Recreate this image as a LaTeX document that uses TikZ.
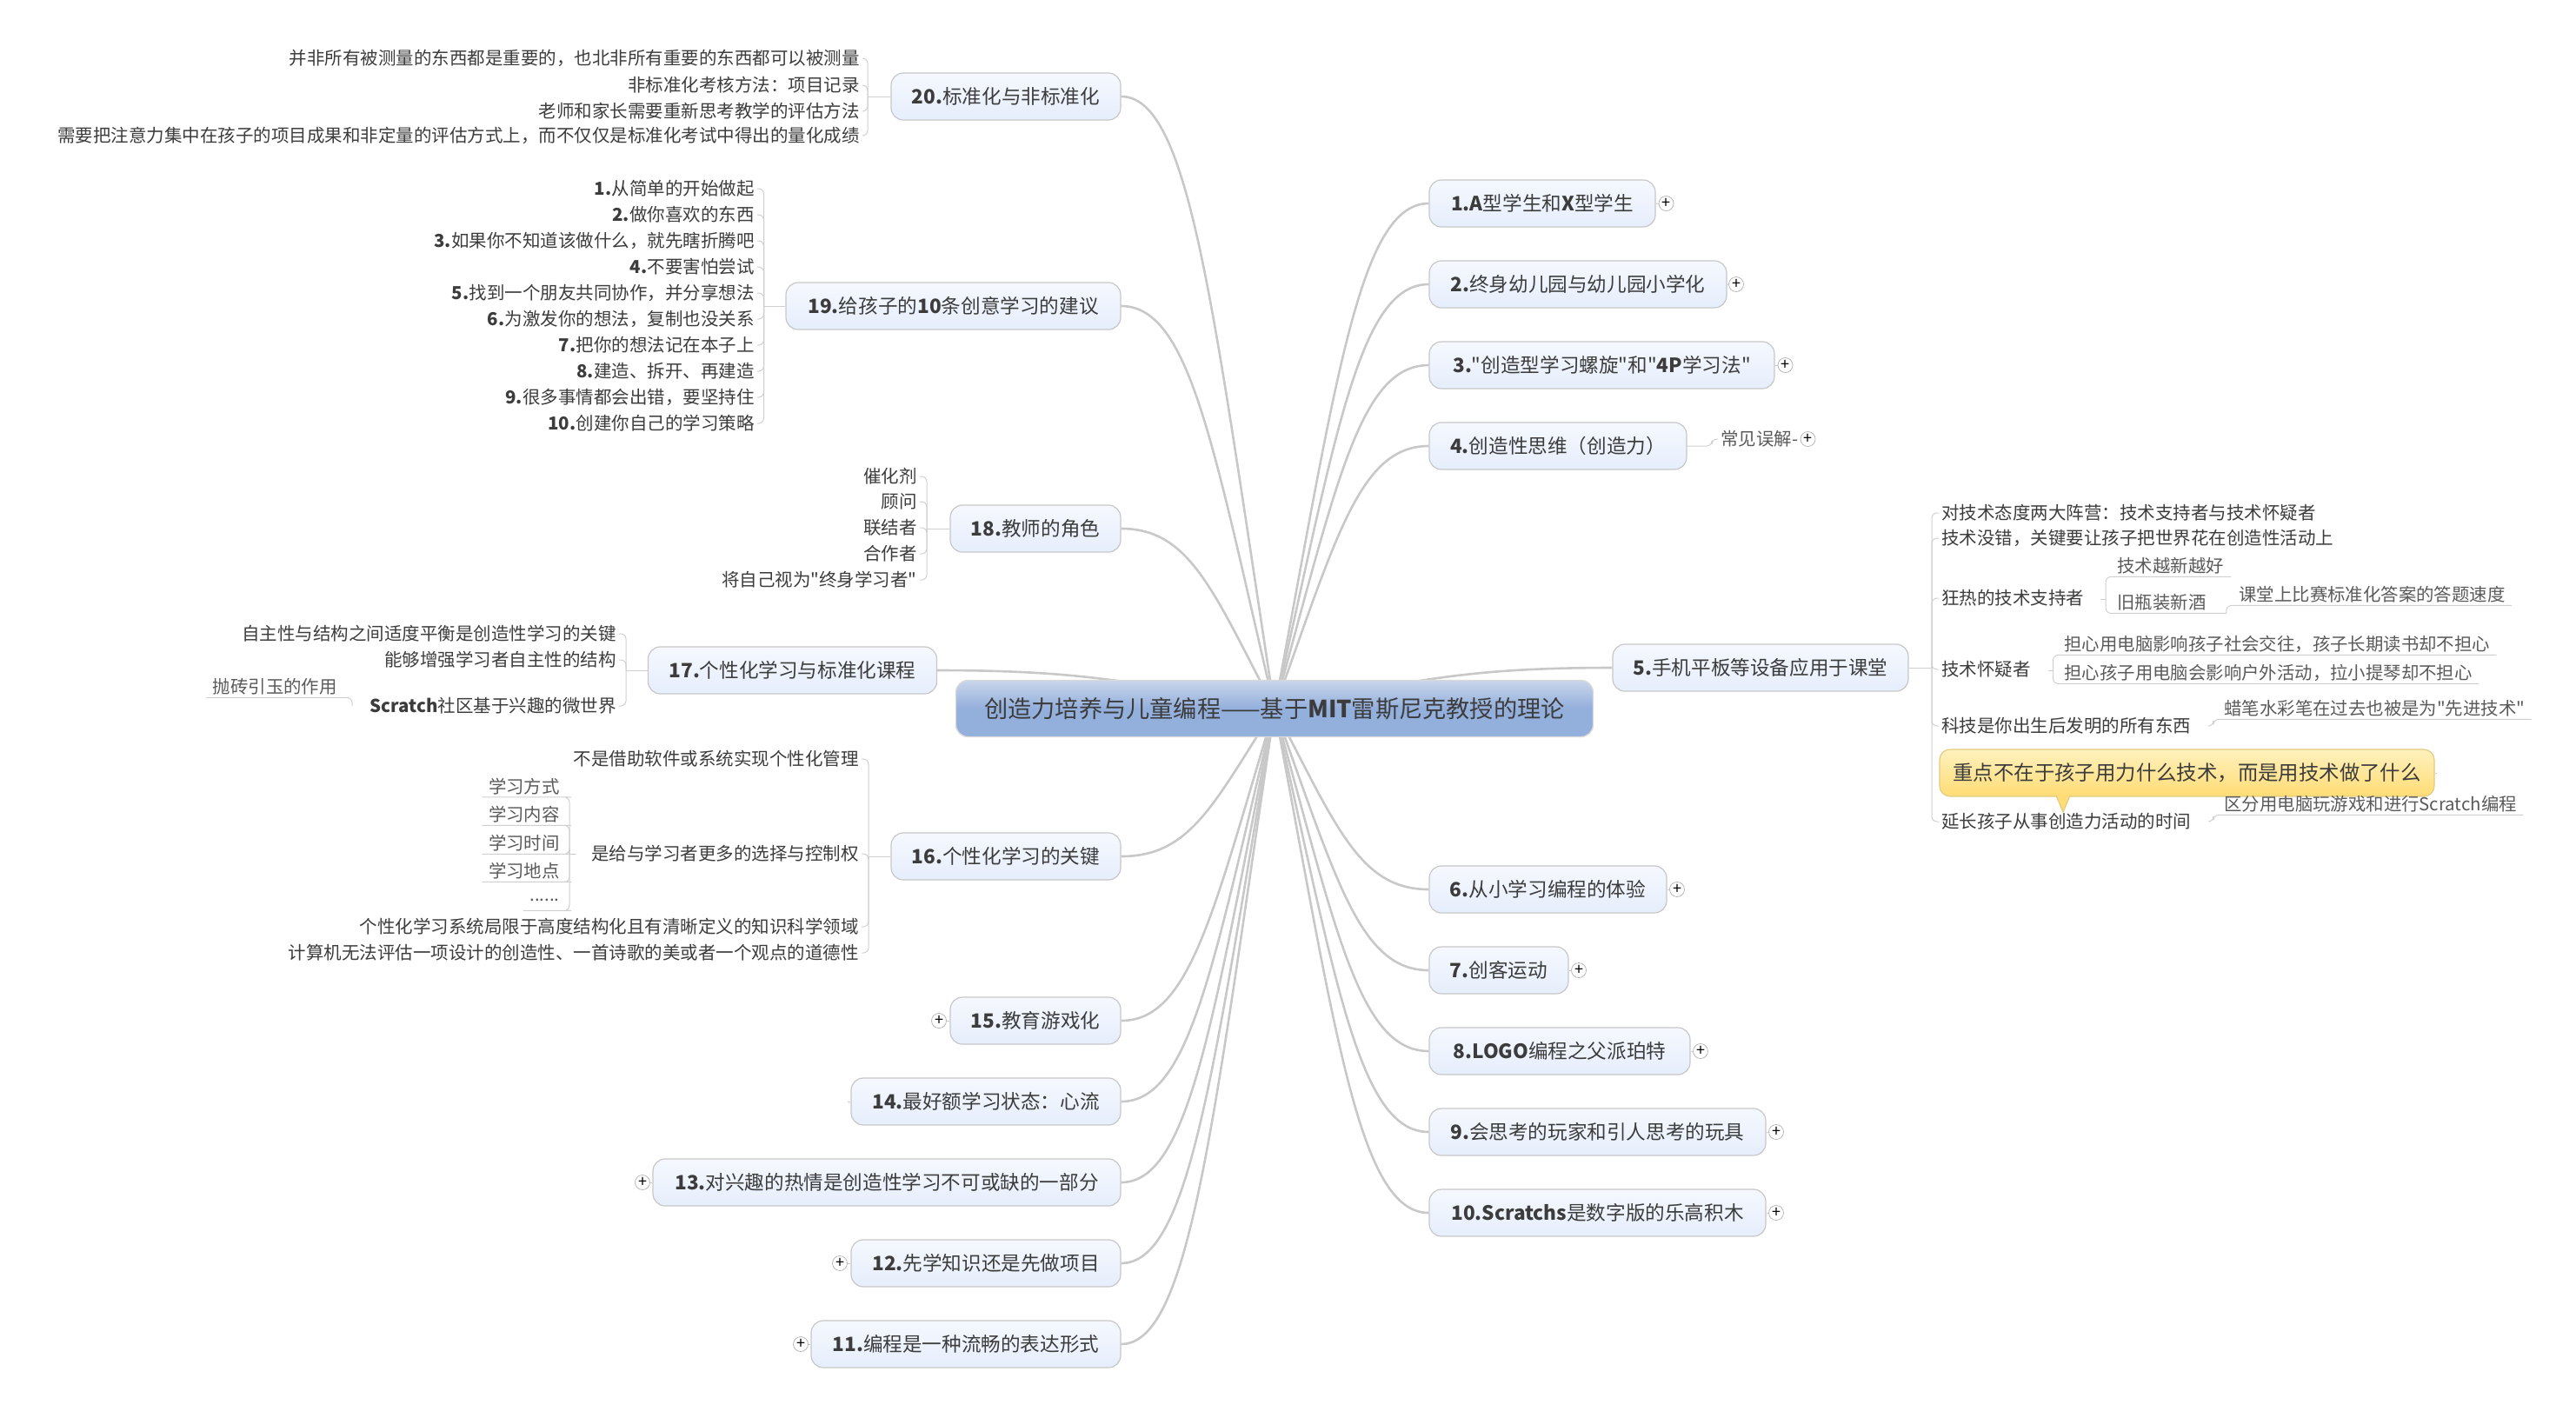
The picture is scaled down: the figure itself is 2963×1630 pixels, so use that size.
\documentclass[tikz,border=0pt]{standalone}
\usepackage{fontspec}
\setmainfont{Noto Sans CJK SC}[Ligatures=TeXOff]
\usetikzlibrary{backgrounds,calc}

\definecolor{inkdark}{HTML}{3C3C3C}
\definecolor{inkgray}{HTML}{5A5A5A}
\definecolor{branchgray}{HTML}{C8C8C8}
\definecolor{twiggray}{HTML}{CFCFCF}
\definecolor{topictop}{HTML}{F5F8FE}
\definecolor{topicbot}{HTML}{E6EEFC}
\definecolor{roottop}{HTML}{C9D6EB}
\definecolor{rootbot}{HTML}{93AFDC}
\definecolor{notetop}{HTML}{FFF1BE}
\definecolor{notebot}{HTML}{FFDC74}
\definecolor{noteline}{HTML}{E2CC80}

\tikzset{
	topic/.style={draw=black!22,line width=0.6pt,rounded corners=7pt,top color=topictop,bottom color=topicbot,
		minimum height=27pt,inner sep=0pt,text=inkdark,font=\fontsize{11.3}{13}\selectfont},
	rootnode/.style={draw=black!15,line width=0.7pt,rounded corners=7pt,top color=roottop,bottom color=rootbot,middle color=rootbot,
		minimum height=32.5pt,minimum width=366.5pt,inner sep=0pt,text=inkdark,font=\fontsize{13.6}{15}\selectfont},
	callnote/.style={draw=noteline,line width=0.6pt,rounded corners=6pt,top color=notetop,bottom color=notebot,
		minimum height=27pt,minimum width=284.5pt,inner sep=0pt,text=inkdark,font=\fontsize{11.7}{13}\selectfont},
	leafl/.style={anchor=east,inner ysep=0pt,inner xsep=1.5pt,text=inkdark,font=\fontsize{10.25}{12}\selectfont},
	leafr/.style={anchor=west,inner ysep=0pt,inner xsep=1.5pt,text=inkdark,font=\fontsize{10.25}{12}\selectfont},
	subl/.style={anchor=east,inner ysep=0pt,inner xsep=3.5pt,minimum height=12pt,text=inkgray,font=\fontsize{10.2}{12}\selectfont},
	subr/.style={anchor=west,inner ysep=0pt,inner xsep=3.5pt,minimum height=12pt,text=inkgray,font=\fontsize{10.2}{12}\selectfont},
	plusbtn/.style={circle,draw=black!28,line width=0.4pt,fill=white,minimum size=8.5pt,inner sep=0pt,font=\fontsize{9}{9}\selectfont},
	branch/.style={draw=branchgray,line width=1.3pt},
	twig/.style={draw=twiggray,line width=0.5pt,rounded corners=3pt}
}

\begin{document}
\begin{tikzpicture}[x=0.5pt,y=-0.5pt]
	\useasboundingbox (0,0) rectangle (2963,1630);

	%center
	\node[rootnode] (root) at (1466,815) {创造力培养与儿童编程——基于\textbf{MIT}雷斯尼克教授的理论};

	%right topics
	\node[topic,minimum width=130pt]   (t1)  at (1774,234)  {\textbf{1.A}型学生和\textbf{X}型学生};
	\node[topic,minimum width=171pt]   (t2)  at (1815,327)  {\textbf{2.}终身幼儿园与幼儿园小学化};
	\node[topic,minimum width=198.5pt] (t3)  at (1842.5,420) {\textbf{3.}"创造型学习螺旋"和"\textbf{4P}学习法"};
	\node[topic,minimum width=148pt]   (t4)  at (1792,513)  {\textbf{4.}创造性思维（创造力）};
	\node[topic,minimum width=170pt]   (t5)  at (2025,768)  {\textbf{5.}手机平板等设备应用于课堂};
	\node[topic,minimum width=136.5pt] (t6)  at (1780.5,1023) {\textbf{6.}从小学习编程的体验};
	\node[topic,minimum width=80pt]    (t7)  at (1724,1116) {\textbf{7.}创客运动};
	\node[topic,minimum width=150pt]   (t8)  at (1794,1209) {\textbf{8.LOGO}编程之父派珀特};
	\node[topic,minimum width=193.5pt] (t9)  at (1837.5,1302) {\textbf{9.}会思考的玩家和引人思考的玩具};
	\node[topic,minimum width=193.5pt] (t10) at (1837.5,1395) {\textbf{10.Scratchs}是数字版的乐高积木};

	%left topics
	\node[topic,minimum width=178pt]   (t11) at (1111,1546) {\textbf{11.}编程是一种流畅的表达形式};
	\node[topic,minimum width=155pt]   (t12) at (1134,1453) {\textbf{12.}先学知识还是先做项目};
	\node[topic,minimum width=269pt]   (t13) at (1020,1360) {\textbf{13.}对兴趣的热情是创造性学习不可或缺的一部分};
	\node[topic,minimum width=155pt]   (t14) at (1134,1267) {\textbf{14.}最好额学习状态：心流};
	\node[topic,minimum width=98pt]    (t15) at (1191,1174) {\textbf{15.}教育游戏化};
	\node[topic,minimum width=132pt]   (t16) at (1157,985)  {\textbf{16.}个性化学习的关键};
	\node[topic,minimum width=166pt]   (t17) at (911.5,771) {\textbf{17.}个性化学习与标准化课程};
	\node[topic,minimum width=98pt]    (t18) at (1191,608)  {\textbf{18.}教师的角色};
	\node[topic,minimum width=192.5pt] (t19) at (1096.5,352) {\textbf{19.}给孩子的\textbf{10}条创意学习的建议};
	\node[topic,minimum width=132pt]   (t20) at (1157,111)  {\textbf{20.}标准化与非标准化};

	%branches
	\begin{scope}[on background layer]
	\foreach \tp in {t1,t2,t3,t4,t5,t6,t7,t8,t9,t10}
		\draw[branch] let \p1=(\tp.west),\p2=(root.center) in
			(\p1) .. controls ({\x1+0.45*(\x2-\x1)},\y1) and ({\x1+0.6*(\x2-\x1)},{\y1+0.35*(\y2-\y1)}) .. (\p2);
	\foreach \tp in {t11,t12,t13,t14,t15,t16,t17,t18,t19,t20}
		\draw[branch] let \p1=(\tp.east),\p2=(root.center) in
			(\p1) .. controls ({\x1+0.45*(\x2-\x1)},\y1) and ({\x1+0.6*(\x2-\x1)},{\y1+0.35*(\y2-\y1)}) .. (\p2);
	\end{scope}

	%plus buttons
	\foreach \tp/\px in {t1/1916.5,t2/1997,t3/2053.5,t6/1929,t7/1816,t8/1956,t9/2043,t10/2043}{
		\node[plusbtn] (p\tp) at (\px,0 |- \tp.east) {+};
		\draw[twig] (\tp.east) -- (p\tp);
	}
	\foreach \tp/\px in {t11/921,t12/966,t13/739,t15/1080}{
		\node[plusbtn] (p\tp) at (\px,0 |- \tp.west) {+};
		\draw[twig] (\tp.west) -- (p\tp);
	}
	\coordinate (stub14) at (975,1267);
	\draw[twig] (t14.west) -- (stub14);

	%20
	\node[leafl] (a1) at (992,67)  {并非所有被测量的东西都是重要的，也北非所有重要的东西都可以被测量};
	\node[leafl] (a2) at (992,98)  {非标准化考核方法：项目记录};
	\node[leafl] (a3) at (992,128) {老师和家长需要重新思考教学的评估方法};
	\node[leafl] (a4) at (992,156) {需要把注意力集中在孩子的项目成果和非定量的评估方式上，而不仅仅是标准化考试中得出的量化成绩};
	\coordinate (ja) at (998,111);
	\draw[twig] (t20.west) -- (ja);
	\foreach \lf in {a1,a2,a3,a4}
		\draw[twig] (ja) |- (\lf.east);

	%19
	\node[leafl] (b1)  at (871,217) {\textbf{1.}从简单的开始做起};
	\node[leafl] (b2)  at (871,247) {\textbf{2.}做你喜欢的东西};
	\node[leafl] (b3)  at (871,277) {\textbf{3.}如果你不知道该做什么，就先瞎折腾吧};
	\node[leafl] (b4)  at (871,307) {\textbf{4.}不要害怕尝试};
	\node[leafl] (b5)  at (871,337) {\textbf{5.}找到一个朋友共同协作，并分享想法};
	\node[leafl] (b6)  at (871,367) {\textbf{6.}为激发你的想法，复制也没关系};
	\node[leafl] (b7)  at (871,397) {\textbf{7.}把你的想法记在本子上};
	\node[leafl] (b8)  at (871,427) {\textbf{8.}建造、拆开、再建造};
	\node[leafl] (b9)  at (871,457) {\textbf{9.}很多事情都会出错，要坚持住};
	\node[leafl] (b10) at (871,487) {\textbf{10.}创建你自己的学习策略};
	\coordinate (jb) at (878.5,352);
	\draw[twig] (t19.west) -- (jb);
	\foreach \lf in {b1,b2,b3,b4,b5,b6,b7,b8,b9,b10}
		\draw[twig] (jb) |- (\lf.east);

	%18
	\node[leafl] (c1) at (1058,548) {催化剂};
	\node[leafl] (c2) at (1058,577) {顾问};
	\node[leafl] (c3) at (1058,607) {联结者};
	\node[leafl] (c4) at (1058,637) {合作者};
	\node[leafl] (c5) at (1058,667) {将自己视为"终身学习者"};
	\coordinate (jc) at (1066,608);
	\draw[twig] (t18.west) -- (jc);
	\foreach \lf in {c1,c2,c3,c4,c5}
		\draw[twig] (jc) |- (\lf.east);

	%17
	\node[leafl] (d1) at (712,729) {自主性与结构之间适度平衡是创造性学习的关键};
	\node[leafl] (d2) at (712,759) {能够增强学习者自主性的结构};
	\node[leafl] (d3) at (712,812) {\textbf{Scratch}社区基于兴趣的微世界};
	\node[subl]  (d4) at (395,790) {抛砖引玉的作用};
	\coordinate (jd) at (720,771);
	\coordinate (kd) at (405,812);
	\draw[twig] (t17.west) -- (jd);
	\foreach \lf in {d1,d2,d3}
		\draw[twig] (jd) |- (\lf.east);
	\draw[twig] (kd) |- (d4.south east) -- (d4.south west);

	%16
	\node[leafl] (e1) at (991,873)  {不是借助软件或系统实现个性化管理};
	\node[leafl] (e2) at (991,982)  {是给与学习者更多的选择与控制权};
	\node[leafl] (e3) at (991,1066) {个性化学习系统局限于高度结构化且有清晰定义的知识科学领域};
	\node[leafl] (e4) at (991,1096) {计算机无法评估一项设计的创造性、一首诗歌的美或者一个观点的道德性};
	\coordinate (je) at (999,985);
	\draw[twig] (t16.west) -- (je);
	\foreach \lf in {e1,e2,e3,e4}
		\draw[twig] (je) |- (\lf.east);

	\node[subl] (f1) at (651,904.5)  {学习方式};
	\node[subl] (f2) at (651,937)  {学习内容};
	\node[subl] (f3) at (651,970)  {学习时间};
	\node[subl] (f4) at (651,1002) {学习地点};
	\node[subl] (f5) at (651,1035) {......};
	\coordinate (jf) at (655,982);
	\coordinate (kf) at (663,982);
	\draw[twig] (kf) -- (jf);
	\foreach \lf in {f1,f2,f3,f4,f5}
		\draw[twig] (jf) |- (\lf.south east) -- (\lf.south west);

	%5
	\node[leafr] (g1) at (2230,590) {对技术态度两大阵营：技术支持者与技术怀疑者};
	\node[leafr] (g2) at (2230,619) {技术没错，关键要让孩子把世界花在创造性活动上};
	\node[leafr] (g3) at (2230,688) {狂热的技术支持者};
	\node[leafr] (g4) at (2230,770) {技术怀疑者};
	\node[leafr] (g5) at (2230,835) {科技是你出生后发明的所有东西};
	\node[leafr] (g6) at (2230,945) {延长孩子从事创造力活动的时间};
	\coordinate (jg) at (2222,768);
	\draw[twig] (t5.east) -- (jg);
	\foreach \lf in {g1,g2,g3,g4,g5,g6}
		\draw[twig] (jg) |- (\lf.west);

	%callout over the trunk
	\node[callnote] (y1) at (2515.5,889) {重点不在于孩子用力什么技术，而是用技术做了什么};
	\coordinate (ya) at (2365,915);
	\coordinate (yb) at (2373,934);
	\coordinate (yc) at (2381,915);
	\path[fill=notebot] (ya) -- (yb) -- (yc) -- cycle;
	\draw[draw=noteline,line width=0.6pt] (ya) -- (yb) -- (yc);
	\coordinate (ye) at (2803,889);
	\draw[twig] (y1.east) -- (ye);

	%5 details
	\node[subr] (h1) at (2428,651) {技术越新越好};
	\node[subr] (h2) at (2428,693) {旧瓶装新酒};
	\node[subr] (h3) at (2568,684) {课堂上比赛标准化答案的答题速度};
	\coordinate (jh) at (2422,689);
	\coordinate (kh) at (2416,689);
	\draw[twig] (kh) -- (jh);
	\draw[twig] (jh) |- ($(h1.south east)+(1,0)$);
	\draw[twig] (jh) |- ($(h2.south east)+(16,0)$) coordinate (mh);
	\draw[twig] (mh) |- (h3.south east);

	\node[subr] (i1) at (2367,741) {担心用电脑影响孩子社会交往，孩子长期读书却不担心};
	\node[subr] (i2) at (2367,774) {担心孩子用电脑会影响户外活动，拉小提琴却不担心};
	\coordinate (ji) at (2361.5,771);
	\coordinate (ki) at (2356,771);
	\draw[twig] (ki) -- (ji);
	\foreach \lf in {i1,i2}
		\draw[twig] (ji) |- (\lf.south east);

	\node[subr] (m1) at (2551,815) {蜡笔水彩笔在过去也被是为"先进技术"};
	\coordinate (jm) at (2546,835);
	\coordinate (km) at (2540,835);
	\draw[twig] (km) -- (jm) |- (m1.south east);

	\node[subr] (n1) at (2551,925) {区分用电脑玩游戏和进行Scratch编程};
	\coordinate (jn) at (2546,945);
	\coordinate (kn) at (2540,945);
	\draw[twig] (kn) -- (jn) |- (n1.south east);

	%misconception
	\node[leafr,text=inkgray] (o1) at (1976,505) {常见误解-};
	\node[plusbtn] (po1) at (2079.5,505) {+};
	\coordinate (jo) at (1969,513);
	\draw[twig] (t4.east) -- (jo) |- (o1.west);
	\draw[twig] (o1.east) -- (po1);

\end{tikzpicture}
\end{document}
